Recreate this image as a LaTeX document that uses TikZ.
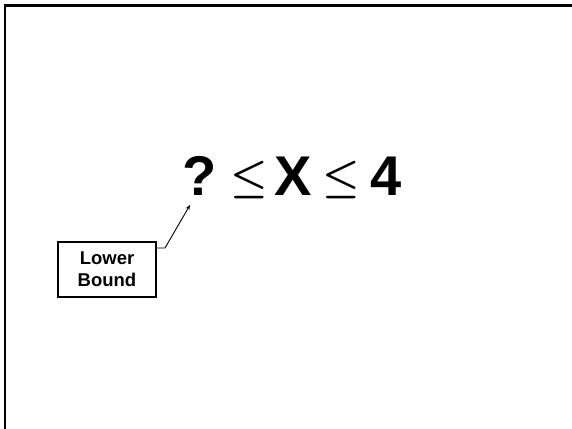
\RequirePackage{fix-cm}
\documentclass[tikz,border=0pt]{standalone}
\usepackage{fontspec}
\setmainfont{Liberation Sans}
\usetikzlibrary{arrows.meta}
\begin{document}
\begin{tikzpicture}[x=1pt,y=-1pt,
  frameline/.style={line width=2.5pt,draw=black},
  bigsym/.style={inner sep=0pt,anchor=base,font=\fontsize{56}{60}\selectfont\bfseries},
  relsym/.style={inner sep=0pt,anchor=base,font=\fontsize{42}{46}\selectfont\boldmath},
  labelbox/.style={draw,line width=1.5pt,minimum width=98pt,minimum height=55pt,
    inner sep=0pt,align=center,font=\fontsize{18.5}{22}\selectfont\bfseries},
  pointer/.style={line width=0.9pt,-{Stealth[length=5pt,width=4pt]}}]
  \useasboundingbox (0,0) rectangle (572,428);
  \fill[white] (0,0) rectangle (572,428);
  % slide frame (only top and left edges fall inside the page)
  \draw[frameline] (5,440) -- (5,5.5) -- (580,5.5);
  % the inequality
  \node[bigsym] (q)  at (200,195) {?};
  \node[relsym] (le1) at (249,190) {$\leq$};
  \node[bigsym] (x)  at (293.5,195) {X};
  \node[relsym] (le2) at (341,190) {$\leq$};
  \node[bigsym] (four) at (386,195) {4};
  % label box
  \node[labelbox] (lb) at (107,269.5) {Lower\\Bound};
  \coordinate (tick) at (165,248);
  \coordinate (tip) at (190,205);
  \draw[pointer] (lb.east |- tick) -- (tick) -- (tip);
\end{tikzpicture}
\end{document}
